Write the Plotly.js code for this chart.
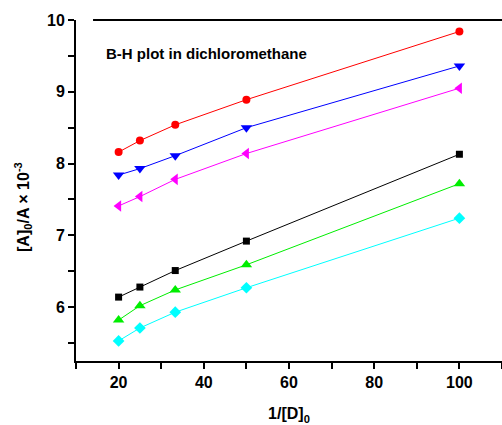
<!DOCTYPE html>
<html>
<head>
<meta charset="utf-8">
<script src="https://cdn.plot.ly/plotly-3.0.1.min.js"></script>
<style>html,body{margin:0;padding:0;background:#fff;}#chart{width:502px;height:425px;}</style>
</head>
<body>
<div id="chart"></div>
<script>
const xValues = [20, 25, 33.3, 50, 100];
const redSeries = [8.16, 8.32, 8.54, 8.89, 9.84];
const blueSeries = [7.84, 7.93, 8.11, 8.50, 9.36];
const magentaSeries = [7.41, 7.54, 7.78, 8.14, 9.05];
const blackSeries = [6.14, 6.28, 6.51, 6.92, 8.13];
const greenSeries = [5.82, 6.02, 6.24, 6.59, 7.72];
const cyanSeries = [5.53, 5.71, 5.93, 6.27, 7.24];
const xTickVals = [10, 20, 30, 40, 50, 60, 70, 80, 90, 100, 110];
const xTickText = ['', '20', '', '40', '', '60', '', '80', '', '100', ''];
const yTickVals = [5.5, 6, 6.5, 7, 7.5, 8, 8.5, 9, 9.5, 10];
const yTickText = ['', '6', '', '7', '', '8', '', '9', '', '10'];

function tr(y, color, symbol, size) {
  return {
    x: xValues, y: y, type: 'scatter', mode: 'lines+markers',
    line: {color: color, width: 1},
    marker: {color: color, symbol: symbol, size: size},
    showlegend: false, hoverinfo: 'none'
  };
}

const data = [
  tr(redSeries, '#ff0000', 'circle', 8),
  tr(blueSeries, '#0000ff', 'triangle-down', 10),
  tr(magentaSeries, '#ff00ff', 'triangle-left', 10),
  tr(blackSeries, '#000000', 'square', 7),
  tr(greenSeries, '#00ee00', 'triangle-up', 10),
  tr(cyanSeries, '#00ffff', 'diamond', 9)
];

const fontFam = 'Arial, Liberation Sans, sans-serif';
const tickFont = {size: 16, family: fontFam, color: '#000000', weight: 700};
const layout = {
  width: 502, height: 425,
  margin: {l: 76, r: 0, t: 20, b: 64, pad: 0},
  paper_bgcolor: '#fff', plot_bgcolor: '#fff',
  font: {family: fontFam, color: '#000', size: 16},
  xaxis: {
    range: [10, 110], tickmode: 'array', tickvals: xTickVals, ticktext: xTickText,
    ticks: 'outside', ticklen: 6, tickwidth: 2,
    tickcolor: '#000', showline: true, linewidth: 2, linecolor: '#000',
    showgrid: false, zeroline: false,
    tickfont: tickFont,
    title: {text: '<b>1/[D]<sub>0</sub></b>', font: {size: 16, family: fontFam, color: '#000'}, standoff: 18}
  },
  yaxis: {
    range: [5.25, 10], tickmode: 'array', tickvals: yTickVals, ticktext: yTickText,
    ticks: 'outside', ticklen: 6, tickwidth: 2,
    tickcolor: '#000', showline: true, linewidth: 2, linecolor: '#000',
    showgrid: false, zeroline: false,
    tickfont: tickFont
  },
  shapes: [
    {type: 'line', xref: 'paper', yref: 'paper', x0: 0.04, x1: 1, y0: 1, y1: 1,
     line: {color: '#000', width: 2}}
  ],
  annotations: [
    {text: '<b>B-H plot in dichloromethane</b>', xref: 'paper', yref: 'paper',
     x: (104 - 76) / 426, y: (361 - 53) / 341, xanchor: 'left', yanchor: 'middle',
     showarrow: false, font: {size: 15, family: fontFam, color: '#000'}},
    {text: '<b>[A]<sub>0</sub>/A × 10<sup>-3</sup></b>', xref: 'paper', yref: 'paper',
     x: (23 - 76) / 426, y: (361 - 207) / 341, xanchor: 'center', yanchor: 'middle',
     textangle: -90, showarrow: false, font: {size: 16, family: fontFam, color: '#000'}}
  ]
};

Plotly.newPlot('chart', data, layout, {displayModeBar: false, staticPlot: true});
</script>
</body>
</html>
